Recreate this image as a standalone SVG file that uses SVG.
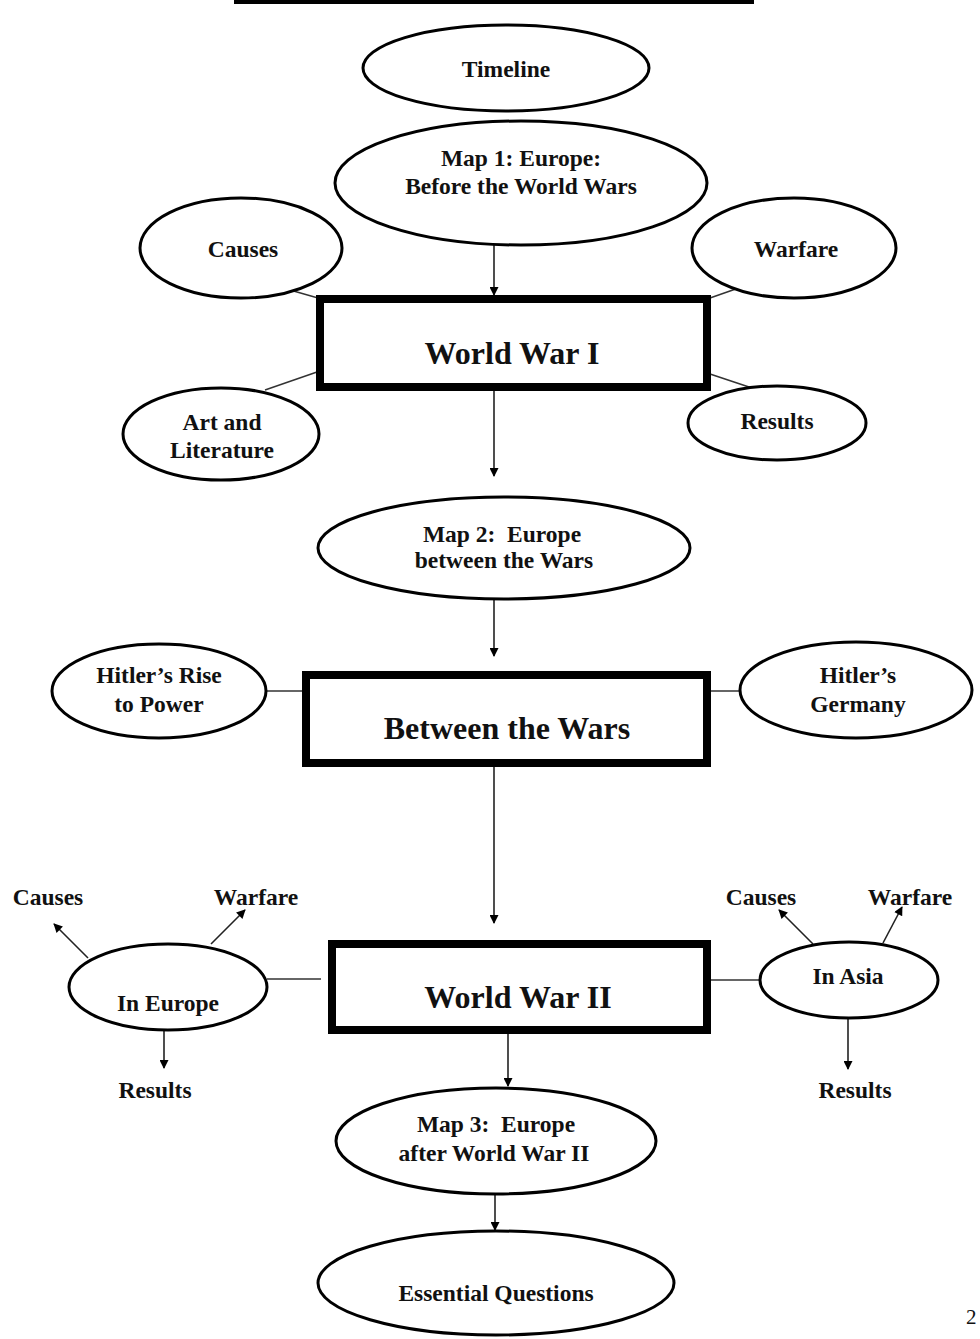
<svg xmlns="http://www.w3.org/2000/svg" width="980" height="1339" viewBox="0 0 980 1339">
<style>
.el{fill:#fff;stroke:#000;stroke-width:3}
.bx{fill:#fff;stroke:#000;stroke-width:8}
.t{font-family:"Liberation Serif","Times New Roman",serif;font-weight:bold;font-size:23.5px;fill:#111;text-anchor:middle}
.big{font-size:32px}
.ln{stroke:#333;stroke-width:1.5;fill:none}
.ar{stroke:#222;stroke-width:1.6;fill:none;marker-end:url(#ah)}
</style>
<defs>
<marker id="ah" viewBox="0 0 10 10" refX="9" refY="5" markerWidth="10" markerHeight="9" markerUnits="userSpaceOnUse" orient="auto">
<path d="M0,0 L10,5 L0,10 Z" fill="#000"/>
</marker>
</defs>
<rect x="234" y="0" width="520" height="4" fill="#000"/>
<g id="connectors">
<line class="ar" x1="494" y1="245" x2="494" y2="295"/>
<line class="ar" x1="494" y1="391" x2="494" y2="476"/>
<line class="ar" x1="494" y1="600" x2="494" y2="656"/>
<line class="ar" x1="494" y1="767" x2="494" y2="923"/>
<line class="ar" x1="508" y1="1034" x2="508" y2="1086"/>
<line class="ar" x1="495" y1="1194" x2="495" y2="1230"/>
<line class="ln" x1="262" y1="282" x2="318" y2="298"/>
<line class="ln" x1="750" y1="284" x2="710" y2="298"/>
<line class="ln" x1="265" y1="390" x2="317" y2="372"/>
<line class="ln" x1="710" y1="374" x2="752" y2="388"/>
<line class="ln" x1="266" y1="691" x2="302" y2="691"/>
<line class="ln" x1="711" y1="691" x2="740" y2="691"/>
<line class="ln" x1="267" y1="979" x2="321" y2="979"/>
<line class="ln" x1="711" y1="980" x2="760" y2="980"/>
<line class="ar" x1="88" y1="958" x2="54" y2="924"/>
<line class="ar" x1="211" y1="944" x2="245" y2="910"/>
<line class="ar" x1="164" y1="1030" x2="164" y2="1068"/>
<line class="ar" x1="813" y1="944" x2="779" y2="910"/>
<line class="ar" x1="883" y1="943" x2="902" y2="907"/>
<line class="ar" x1="848" y1="1017" x2="848" y2="1069"/>
</g>
<g id="timeline"><ellipse class="el" cx="506" cy="68" rx="143" ry="43"/><text class="t" x="506" y="77">Timeline</text></g>
<g id="map1"><ellipse class="el" cx="521" cy="183" rx="186" ry="62"/><text class="t" x="521" y="166">Map 1: Europe:</text><text class="t" x="521" y="194">Before the World Wars</text></g>
<g id="causes1"><ellipse class="el" cx="241" cy="248" rx="101" ry="50"/><text class="t" x="243" y="257">Causes</text></g>
<g id="warfare1"><ellipse class="el" cx="794" cy="248" rx="102" ry="50"/><text class="t" x="796" y="257">Warfare</text></g>
<g id="ww1"><rect class="bx" x="320" y="299" width="387" height="88"/><text class="t big" x="512" y="364">World War I</text></g>
<g id="art"><ellipse class="el" cx="221" cy="434" rx="98" ry="46"/><text class="t" x="222" y="430">Art and</text><text class="t" x="222" y="458">Literature</text></g>
<g id="results1"><ellipse class="el" cx="777" cy="423" rx="89" ry="37"/><text class="t" x="777" y="429">Results</text></g>
<g id="map2"><ellipse class="el" cx="504" cy="548" rx="186" ry="51"/><text class="t" x="502" y="542" xml:space="preserve">Map 2:  Europe</text><text class="t" x="504" y="568">between the Wars</text></g>
<g id="hitlerrise"><ellipse class="el" cx="159" cy="691" rx="107" ry="47"/><text class="t" x="159" y="683">Hitler’s Rise</text><text class="t" x="159" y="712">to Power</text></g>
<g id="hitlergermany"><ellipse class="el" cx="856" cy="690" rx="116" ry="48"/><text class="t" x="858" y="683">Hitler’s</text><text class="t" x="858" y="712">Germany</text></g>
<g id="between"><rect class="bx" x="306" y="675" width="401" height="88"/><text class="t big" x="507" y="739">Between the Wars</text></g>
<g id="ww2"><rect class="bx" x="332" y="944" width="375" height="86"/><text class="t big" x="518" y="1008">World War II</text></g>
<g id="ineurope"><ellipse class="el" cx="168" cy="987" rx="99" ry="43"/><text class="t" x="168" y="1011">In Europe</text></g>
<g id="causes2"><text class="t" x="48" y="905">Causes</text></g>
<g id="warfare2"><text class="t" x="256" y="905">Warfare</text></g>
<g id="results2"><text class="t" x="155" y="1098">Results</text></g>
<g id="inasia"><ellipse class="el" cx="849" cy="980" rx="89" ry="38"/><text class="t" x="848" y="984">In Asia</text></g>
<g id="causes3"><text class="t" x="761" y="905">Causes</text></g>
<g id="warfare3"><text class="t" x="910" y="905">Warfare</text></g>
<g id="results3"><text class="t" x="855" y="1098">Results</text></g>
<g id="map3"><ellipse class="el" cx="496" cy="1141" rx="160" ry="53"/><text class="t" x="496" y="1132" xml:space="preserve">Map 3:  Europe</text><text class="t" x="494" y="1161">after World War II</text></g>
<g id="essential"><ellipse class="el" cx="496" cy="1283" rx="178" ry="52"/><text class="t" x="496" y="1301">Essential Questions</text></g>
<text x="966" y="1324" style="font-family:'Liberation Serif',serif;font-size:21px;fill:#111">2</text>
</svg>
